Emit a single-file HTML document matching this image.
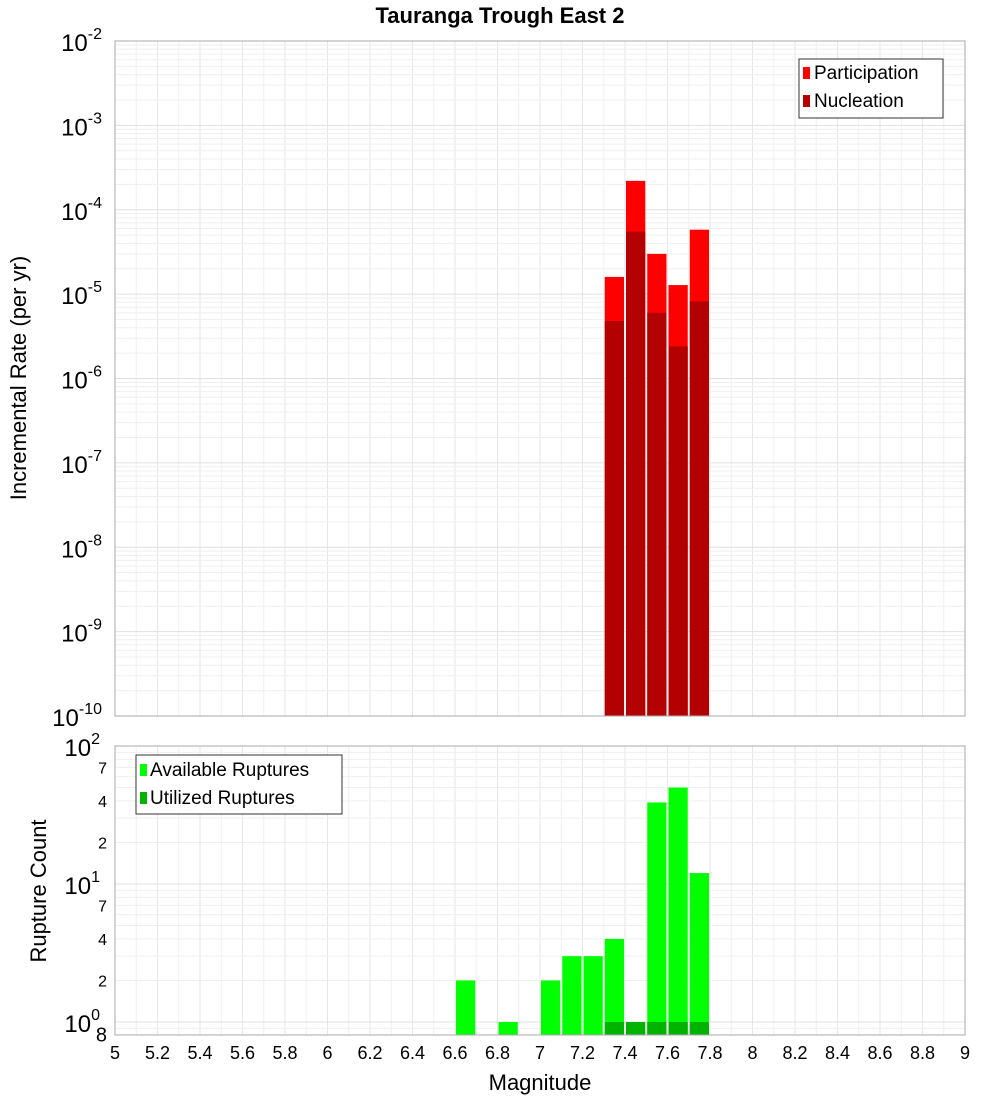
<!DOCTYPE html>
<html><head><meta charset="utf-8"><style>body{margin:0;background:#fff}svg{display:block;font-family:"Liberation Sans","DejaVu Sans",sans-serif}</style></head>
<body>
<svg id="c" width="1000" height="1100"></svg>
<script>
const mags=[6.65,6.85,7.05,7.15,7.25,7.35,7.45,7.55,7.65,7.75];
const partMags=[7.35,7.45,7.55,7.65,7.75];
const participation=[1.6e-5,2.2e-4,3.0e-5,1.28e-5,5.8e-5];
const nucleation=[4.8e-6,5.5e-5,6.0e-6,2.4e-6,8.2e-6];
const available=[2,1,2,3,3,4,0,39,50,12];
const utilMags=[7.35,7.45,7.55,7.65,7.75];
const utilized=[1,1,1,1,1];
const xTicks=[5,5.2,5.4,5.6,5.8,6,6.2,6.4,6.6,6.8,7,7.2,7.4,7.6,7.8,8,8.2,8.4,8.6,8.8,9];

const NS="http://www.w3.org/2000/svg",svg=document.getElementById('c');
function el(t,a,txt){const e=document.createElementNS(NS,t);for(const k in a)e.setAttribute(k,a[k]);if(txt!==undefined)e.textContent=txt;svg.appendChild(e);return e;}
const L=115,R=965;
const X=m=>L+(m-5)/4*(R-L);
const T0=41,T1=716,Yt=v=>T0+(-2-Math.log10(v))*(T1-T0)/8;
const B0=746,B1=1035,Yb=v=>B0+(2-Math.log10(v))*138;
const bw=(R-L)/40;

// frames background + grid
function grid(y0,y1,yf,lo,hi){
  for(let m=5;m<=9.001;m+=0.1){const x=X(m);let g=el('line',{x1:x,x2:x,y1:y0,y2:y1,stroke:Math.abs(m*5-Math.round(m*5))<1e-6?'#e6e6e6':'#f0f0f0','stroke-width':1});}
  for(let d=lo;d<hi;d++)for(let k=1;k<10;k++){const v=k*Math.pow(10,d);const y=yf(v);if(y<y0||y>y1)continue;const g=el('line',{x1:L,x2:R,y1:y,y2:y,stroke:k==1?'#e0e0e0':'#efefef','stroke-width':1});}
}
grid(T0,T1,Yt,-10,-2);
grid(B0,B1,Yb,-1,2);

el('text',{x:500,y:23,'text-anchor':'middle','font-size':22,'font-weight':'bold',},'Tauranga Trough East 2');

// top bars
partMags.forEach((m,i)=>{
  const x=X(m)-bw/2+1;
  let r=el('rect',{x:x,y:Yt(participation[i]),width:bw-2,height:T1-Yt(participation[i]),fill:'#ff0000'});
  
  r=el('rect',{x:x,y:Yt(nucleation[i]),width:bw-2,height:T1-Yt(nucleation[i]),fill:'#b30000'});
  
});
// bottom bars
mags.forEach((m,i)=>{if(available[i]<=0)return;const x=X(m)-bw/2+1;
  const r=el('rect',{x:x,y:Yb(available[i]),width:bw-2,height:B1-Yb(available[i]),fill:'#00ff00'});
  });
utilMags.forEach((m,i)=>{const x=X(m)-bw/2+1;
  const r=el('rect',{x:x,y:Yb(utilized[i]),width:bw-2,height:B1-Yb(utilized[i]),fill:'#00b300'});
  });

el('rect',{x:L,y:T0,width:R-L,height:T1-T0,fill:'none',stroke:'#aaa',});
el('rect',{x:L,y:B0,width:R-L,height:B1-B0,fill:'none',stroke:'#aaa',});

// top y ticks
for(let d=-2;d>=-10;d--){const y=Yt(Math.pow(10,d));
  const t=el('text',{x:102,y:y+10,'text-anchor':'end','font-size':24});
  t.textContent='10';const s=document.createElementNS(NS,'tspan');s.setAttribute('dy',-12);s.setAttribute('font-size',16);s.textContent=String(d);t.appendChild(s);}
// bottom y ticks
[[100,'10','2'],[70,'7'],[40,'4'],[20,'2'],[10,'10','1'],[7,'7'],[4,'4'],[2,'2'],[1,'10','0'],[0.8,'8']].forEach(a=>{
  const y=Yb(a[0]);
  if(a[2]!==undefined){const t=el('text',{x:100,y:y+10,'text-anchor':'end','font-size':24});t.textContent=a[1];
    const s=document.createElementNS(NS,'tspan');s.setAttribute('dy',-12);s.setAttribute('font-size',16);s.textContent=a[2];t.appendChild(s);}
  else{const t=el('text',{x:107,y:y+6,'text-anchor':'end','font-size':a[1]=='8'?20:16},a[1]);}
});
// x ticks
xTicks.forEach(v=>{const t=el('text',{x:X(v),y:1059,'text-anchor':'middle','font-size':18},String(v));});
el('text',{x:540,y:1090,'text-anchor':'middle','font-size':22,},'Magnitude');
el('text',{x:0,y:0,'text-anchor':'middle','font-size':22,transform:'translate(26,378) rotate(-90)',},'Incremental Rate (per yr)');
el('text',{x:0,y:0,'text-anchor':'middle','font-size':22,transform:'translate(46,891) rotate(-90)',},'Rupture Count');

// legends
el('rect',{x:799,y:59,width:144,height:59,fill:'#fff',stroke:'#333',});
el('rect',{x:803,y:67,width:7,height:12,fill:'#ff0000',});
el('text',{x:814,y:79,'font-size':19,},'Participation');
el('rect',{x:803,y:95,width:7,height:12,fill:'#b30000',});
el('text',{x:814,y:107,'font-size':19,},'Nucleation');
el('rect',{x:136,y:755,width:206,height:59,fill:'#fff',stroke:'#333',});
el('rect',{x:140,y:764,width:7,height:12,fill:'#00ff00',});
el('text',{x:150,y:776,'font-size':19,},'Available Ruptures');
el('rect',{x:140,y:792,width:7,height:12,fill:'#00b300',});
el('text',{x:150,y:804,'font-size':19,},'Utilized Ruptures');
</script>
</body></html>
